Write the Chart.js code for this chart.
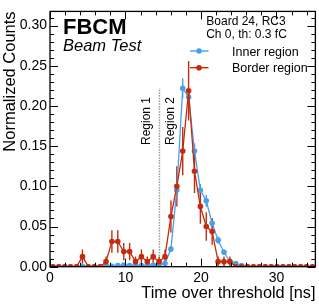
<!DOCTYPE html>
<html>
<head>
<meta charset="utf-8">
<script src="https://cdn.jsdelivr.net/npm/chart.js@4/dist/chart.umd.min.js"></script>
<style>
html,body{margin:0;padding:0;background:#fff;}
#wrap{width:319px;height:305px;position:relative;}
</style>
</head>
<body>
<div id="wrap"><canvas id="c" width="319" height="305"></canvas></div>
<script>
// Bin centres of the time-over-threshold histogram [ns]
const totBins = [0.39,1.17,1.95,2.73,3.52,4.30,5.08,5.86,6.64,7.42,8.20,8.98,9.77,10.55,11.33,12.11,12.89,13.67,14.45,15.23,16.02,16.80,17.58,18.36,19.14,19.92,20.70,21.48,22.27,23.05,23.83,24.61,25.39,26.17,26.95,27.73,28.52,29.30,30.08,30.86,31.64,32.42,33.20,33.98,34.77];

// Inner region (normalized counts) and its errors
const innerValues = [0,0,0,0,0,0.0006,0,0,0,0.0013,0.0006,0.0013,0.0019,0.0013,0.0019,0.0013,0.0019,0.0019,0.0026,0.0039,0.022,0.0955,0.222,0.211,0.144,0.095,0.082,0.054,0.033,0.018,0.0065,0.0039,0.0013,0,0,0,0,0,0,0,0,0,0,0,0];
const innerErrors = [0,0,0,0,0,0.0006,0,0,0,0.0009,0.0006,0.0009,0.0011,0.0009,0.0011,0.0009,0.0011,0.0011,0.0013,0.0016,0.0038,0.0079,0.0125,0.0117,0.0097,0.0079,0.0073,0.0059,0.0046,0.0034,0.0021,0.0016,0.0009,0,0,0,0,0,0,0,0,0,0,0,0];

// Border region (normalized counts) and its errors
const borderValues = [0,0,0,0,0,0.0125,0,0,0,0.0063,0.0313,0.0313,0.0188,0.0188,0.0063,0.0125,0.0063,0.0125,0.0063,0.0125,0.0625,0.1,0.1438,0.2188,0.1188,0.075,0.05,0.0438,0.0063,0.0063,0.0063,0,0,0,0,0,0,0,0,0,0,0,0,0,0];
const borderErrors = [0,0,0,0,0,0.0088,0,0,0,0.0063,0.014,0.014,0.0108,0.0108,0.0063,0.0088,0.0063,0.0088,0.0063,0.0088,0.0198,0.025,0.03,0.037,0.0272,0.0217,0.0177,0.0165,0.0063,0.0063,0.0063,0,0,0,0,0,0,0,0,0,0,0,0,0,0];

const seriesNames = ["Inner region","Border region"];
const yTicks = [0,0.05,0.10,0.15,0.20,0.25,0.30];
const xTicks = [0,10,20,30];
const regionCut = 14.5;

const BLUE = '#4b9fe6';
const RED = '#c42b0e';
const FONT = '"Liberation Sans", Arial, Helvetica, sans-serif';

function pts(vals){ return vals.map((v,i)=>({x:totBins[i], y:v})); }

const extras = {
  id:'extras',
  beforeDatasetsDraw(chart){
    const ctx = chart.ctx, xs = chart.scales.x, ys = chart.scales.y, a = chart.chartArea;
    ctx.save();
    ctx.beginPath(); ctx.rect(a.left,a.top,a.right-a.left,a.bottom-a.top); ctx.clip();
    // dotted region line
    ctx.strokeStyle = '#9a9a9a'; ctx.lineWidth = 1.5; ctx.setLineDash([1.5,1.2]);
    const lx = xs.getPixelForValue(regionCut);
    ctx.beginPath(); ctx.moveTo(lx, ys.getPixelForValue(0)); ctx.lineTo(lx, ys.getPixelForValue(0.222)); ctx.stroke();
    ctx.setLineDash([]);
    // error bars
    const sets = [[innerValues,innerErrors,BLUE],[borderValues,borderErrors,RED]];
    sets.forEach(([vals,errs,col])=>{
      ctx.strokeStyle = col; ctx.lineWidth = 1.4;
      vals.forEach((v,i)=>{
        if(!errs[i]) return;
        const px = xs.getPixelForValue(totBins[i]);
        ctx.beginPath();
        ctx.moveTo(px, ys.getPixelForValue(v-errs[i]));
        ctx.lineTo(px, ys.getPixelForValue(v+errs[i]));
        ctx.stroke();
      });
    });
    ctx.restore();
  },
  afterDraw(chart){
    const ctx = chart.ctx, xs = chart.scales.x, ys = chart.scales.y, a = chart.chartArea;
    ctx.save();
    // frame
    ctx.strokeStyle = '#000'; ctx.lineWidth = 1.3;
    ctx.strokeRect(a.left, a.top, a.right-a.left, a.bottom-a.top);
    // ticks
    ctx.lineWidth = 1;
    ctx.beginPath();
    for(let k=0;k<=31;k++){
      const v = k/100; const py = Math.round(ys.getPixelForValue(v))+0.5;
      if(py < a.top) continue;
      const L = (k%5===0)?8:4;
      ctx.moveTo(a.left,py); ctx.lineTo(a.left+L,py);
      ctx.moveTo(a.right,py); ctx.lineTo(a.right-L,py);
    }
    for(let k=0;k<=34;k+=2){
      const px = Math.round(xs.getPixelForValue(k))+0.5;
      const L = (k%10===0)?8:4;
      ctx.moveTo(px,a.bottom); ctx.lineTo(px,a.bottom-L);
      ctx.moveTo(px,a.top); ctx.lineTo(px,a.top+L);
    }
    ctx.stroke();
    // texts
    ctx.fillStyle = '#000';
    ctx.textBaseline = 'alphabetic';
    ctx.textAlign = 'left';
    ctx.font = 'bold 22px ' + FONT;
    ctx.fillText('FBCM', 63, 33.5);
    ctx.font = 'italic 16.5px ' + FONT;
    ctx.fillText('Beam Test', 63, 50.5);
    ctx.textAlign = 'center';
    ctx.font = '12px ' + FONT;
    ctx.fillText('Board 24, RC3', 246, 24.5);
    ctx.fillText('Ch 0, th: 0.3 fC', 246.5, 37.5);
    // region labels
    ctx.font = '12px ' + FONT;
    [['Region 1',150],['Region 2',173.5]].forEach(([t,x])=>{
      ctx.save(); ctx.translate(x,97); ctx.rotate(-Math.PI/2);
      ctx.textAlign='right'; ctx.fillText(t,0,0); ctx.restore();
    });
    // legend
    [[seriesNames[0],BLUE,51],[seriesNames[1],RED,67.7]].forEach(([t,col,y])=>{
      ctx.strokeStyle = col; ctx.lineWidth = 1.4;
      ctx.beginPath(); ctx.moveTo(190,y); ctx.lineTo(208.5,y); ctx.stroke();
      ctx.fillStyle = col; ctx.beginPath(); ctx.arc(199,y,2.8,0,Math.PI*2); ctx.fill();
      ctx.fillStyle = '#000'; ctx.textAlign='left'; ctx.font = '12.5px ' + FONT;
      ctx.fillText(t, 232, y+4.5);
    });
    ctx.restore();
  }
};

new Chart(document.getElementById('c'), {
  type:'line',
  data:{
    datasets:[
      {label:seriesNames[0], data:pts(innerValues), borderColor:BLUE, backgroundColor:BLUE, borderWidth:1.3, pointRadius:2.8, pointHoverRadius:2.8, pointBorderWidth:0, tension:0, order:1},
      {label:seriesNames[1], data:pts(borderValues), borderColor:RED, backgroundColor:RED, borderWidth:1.3, pointRadius:2.8, pointHoverRadius:2.8, pointBorderWidth:0, tension:0, order:0}
    ]
  },
  options:{
    responsive:false, devicePixelRatio:1, animation:false,
    layout:{padding:{left:0,top:3.5,right:3.6,bottom:0}},
    plugins:{legend:{display:false}, tooltip:{enabled:false}},
    scales:{
      x:{type:'linear', min:0, max:35.15625,
        afterBuildTicks:(s)=>{ s.ticks = xTicks.map(v=>({value:v})); },
        afterFit:(s)=>{ s.height = 38.3; },
        grid:{display:false, drawTicks:false}, border:{display:false},
        ticks:{color:'#000', font:{family:FONT,size:14}, padding:3, maxRotation:0, autoSkip:false, callback:(v)=>String(v)},
        title:{display:true, text:'Time over threshold [ns]', align:'end', color:'#000', font:{family:FONT,size:16.3}, padding:{top:0,bottom:2}}
      },
      y:{type:'linear', min:0, max:0.3176,
        afterBuildTicks:(s)=>{ s.ticks = yTicks.map(v=>({value:v})); },
        afterFit:(s)=>{ s.width = 50; },
        grid:{display:false, drawTicks:false}, border:{display:false},
        ticks:{color:'#000', font:{family:FONT,size:14}, padding:3, callback:(v)=>v.toFixed(2)},
        title:{display:true, text:'Normalized Counts', align:'end', color:'#000', font:{family:FONT,size:16.5}, padding:{top:1,bottom:0}}
      }
    }
  },
  plugins:[extras]
});
</script>
</body>
</html>
